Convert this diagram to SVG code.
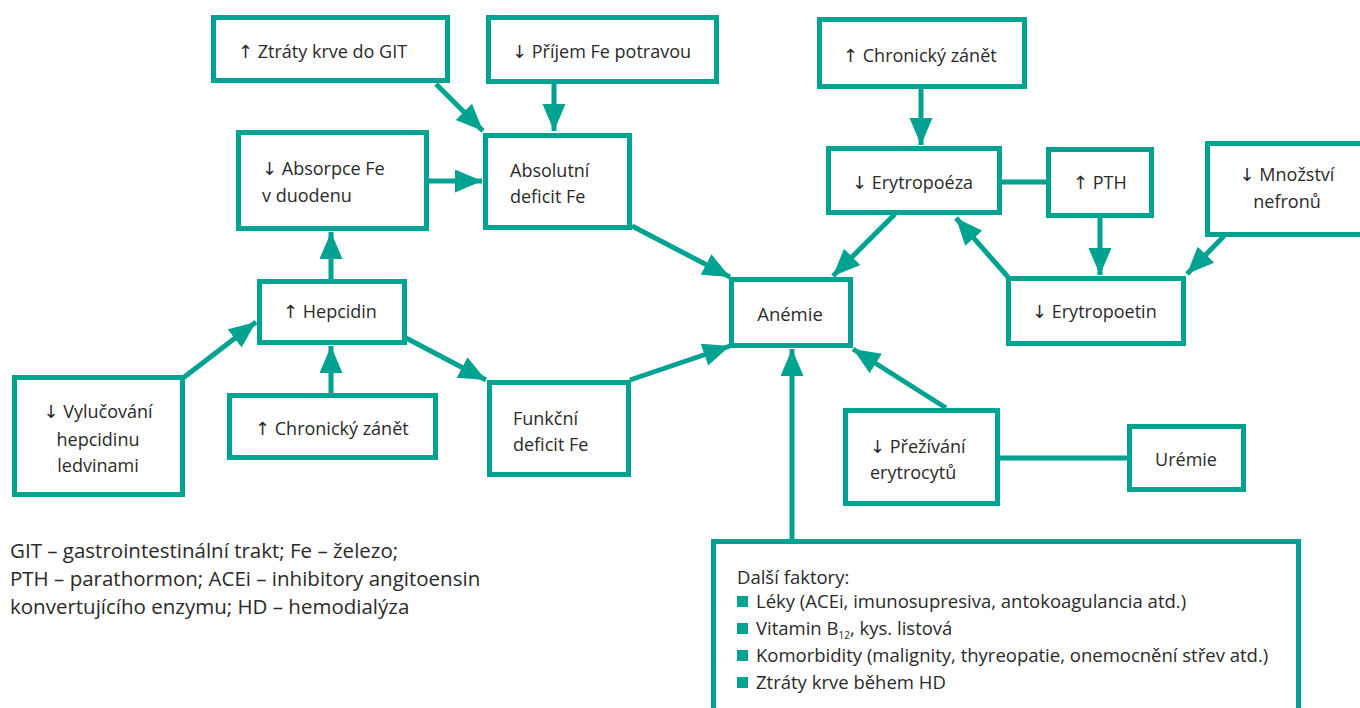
<svg xmlns="http://www.w3.org/2000/svg" width="1360" height="708" viewBox="0 0 1360 708">
<defs>
<style>
.box{fill:#fff;stroke:#00A291;stroke-width:5}
.c{fill:none;stroke:#00A291;stroke-width:5}
.t{font-family:"Open Sans","Noto Sans","DejaVu Sans",sans-serif;font-size:18px;fill:#2a2a2a}
.n{font-family:"Open Sans","Noto Sans","DejaVu Sans",sans-serif;font-size:18.5px;fill:#2a2a2a}
.g{font-family:"Open Sans","Noto Sans","DejaVu Sans",sans-serif;font-size:20.5px;fill:#2a2a2a}
.m{text-anchor:middle}
.b{fill:#00A291}
</style>
<marker id="ah" markerUnits="userSpaceOnUse" markerWidth="28" markerHeight="24" refX="27" refY="11.5" orient="auto">
<path d="M0,0 L27,11.5 L0,23 z" fill="#00A291"/>
</marker>
</defs>
<rect width="1360" height="708" fill="#fff"/>

<g id="connectors">
<line class="c" x1="436" y1="84" x2="483" y2="131" marker-end="url(#ah)"/>
<line class="c" x1="554" y1="84" x2="554" y2="131" marker-end="url(#ah)"/>
<line class="c" x1="428" y1="181" x2="482" y2="181" marker-end="url(#ah)"/>
<line class="c" x1="331" y1="279" x2="331" y2="232" marker-end="url(#ah)"/>
<line class="c" x1="183" y1="378" x2="256" y2="322" marker-end="url(#ah)"/>
<line class="c" x1="331" y1="393" x2="331" y2="346" marker-end="url(#ah)"/>
<line class="c" x1="406" y1="338" x2="486" y2="380" marker-end="url(#ah)"/>
<line class="c" x1="632" y1="226" x2="730" y2="277" marker-end="url(#ah)"/>
<line class="c" x1="630" y1="380" x2="730" y2="346" marker-end="url(#ah)"/>
<line class="c" x1="895" y1="214" x2="833" y2="276" marker-end="url(#ah)"/>
<line class="c" x1="921" y1="88" x2="921" y2="145" marker-end="url(#ah)"/>
<line class="c" x1="1001" y1="182" x2="1046" y2="182"/>
<line class="c" x1="1100" y1="217" x2="1100" y2="275" marker-end="url(#ah)"/>
<line class="c" x1="1008" y1="277" x2="956" y2="218" marker-end="url(#ah)"/>
<line class="c" x1="1224" y1="236" x2="1187" y2="274" marker-end="url(#ah)"/>
<line class="c" x1="946" y1="408" x2="853" y2="349" marker-end="url(#ah)"/>
<line class="c" x1="999" y1="458" x2="1127" y2="458"/>
<line class="c" x1="792" y1="539" x2="792" y2="349" marker-end="url(#ah)"/>
</g>

<g id="n-ztraty"><rect class="box" x="213.5" y="17.5" width="234" height="63"/><text class="t" x="238" y="58">↑ Ztráty krve do GIT</text></g>
<g id="n-prijem"><rect class="box" x="488.5" y="17.5" width="228" height="64"/><text class="t" x="512" y="58">↓ Příjem Fe potravou</text></g>
<g id="n-absorpce"><rect class="box" x="238.5" y="132.5" width="188" height="96"/><text class="t" x="262" y="175">↓ Absorpce Fe</text><text class="t" x="262" y="202">v duodenu</text></g>
<g id="n-absolutni"><rect class="box" x="485.5" y="135.5" width="144" height="92"/><text class="t" x="510" y="177">Absolutní</text><text class="t" x="510" y="203">deficit Fe</text></g>
<g id="n-hepcidin"><rect class="box" x="259.5" y="281.5" width="145" height="61"/><text class="t" x="283" y="318">↑ Hepcidin</text></g>
<g id="n-vylucovani"><rect class="box" x="14.5" y="377.5" width="168" height="117"/><text class="t m" x="98" y="418">↓ Vylučování</text><text class="t m" x="98" y="446">hepcidinu</text><text class="t m" x="98" y="472">ledvinami</text></g>
<g id="n-zanet1"><rect class="box" x="229.5" y="395.5" width="206" height="62"/><text class="t" x="255" y="435">↑ Chronický zánět</text></g>
<g id="n-funkcni"><rect class="box" x="489.5" y="382.5" width="139" height="92"/><text class="t" x="513" y="425">Funkční</text><text class="t" x="513" y="451">deficit Fe</text></g>
<g id="n-anemie"><rect class="box" x="731.5" y="279.5" width="119" height="66"/><text class="n m" x="790" y="321">Anémie</text></g>
<g id="n-zanet2"><rect class="box" x="819.5" y="19.5" width="205" height="67"/><text class="t" x="843" y="62">↑ Chronický zánět</text></g>
<g id="n-erytropoeza"><rect class="box" x="828.5" y="148.5" width="171" height="64"/><text class="t" x="852" y="189">↓ Erytropoéza</text></g>
<g id="n-pth"><rect class="box" x="1048.5" y="149.5" width="103" height="66"/><text class="t" x="1073" y="189">↑ PTH</text></g>
<g id="n-nefrony"><rect class="box" x="1207.5" y="143.5" width="160" height="91"/><text class="t m" x="1287" y="181">↓ Množství</text><text class="t m" x="1287" y="208">nefronů</text></g>
<g id="n-erytropoetin"><rect class="box" x="1008.5" y="278.5" width="175" height="65"/><text class="t" x="1032" y="318">↓ Erytropoetin</text></g>
<g id="n-preziv"><rect class="box" x="845.5" y="410.5" width="152" height="93"/><text class="t" x="870" y="453">↓ Přežívání</text><text class="t" x="870" y="479">erytrocytů</text></g>
<g id="n-uremie"><rect class="box" x="1129.5" y="426.5" width="114" height="63"/><text class="t m" x="1186" y="466">Urémie</text></g>
<g id="n-dalsi">
<path class="c" d="M713.5,712 V541.5 H1298.5 V712"/>
<text class="n" x="737" y="584">Další faktory:</text>
<rect class="b" x="737" y="596" width="11" height="11"/><text class="n" x="756" y="608">Léky (ACEi, imunosupresiva, antokoagulancia atd.)</text>
<rect class="b" x="737" y="623" width="11" height="11"/><text class="n" x="756" y="635">Vitamin B<tspan font-size="10" dy="4">12</tspan><tspan dy="-4">, kys. listová</tspan></text>
<rect class="b" x="737" y="650" width="11" height="11"/><text class="n" x="756" y="662">Komorbidity (malignity, thyreopatie, onemocnění střev atd.)</text>
<rect class="b" x="737" y="677" width="11" height="11"/><text class="n" x="756" y="689">Ztráty krve během HD</text>
</g>
<g id="legend">
<text class="g" x="10" y="558">GIT – gastrointestinální trakt; Fe – železo;</text>
<text class="g" x="10" y="586">PTH – parathormon; ACEi – inhibitory angitoensin</text>
<text class="g" x="10" y="614">konvertujícího enzymu; HD – hemodialýza</text>
</g>
</svg>
